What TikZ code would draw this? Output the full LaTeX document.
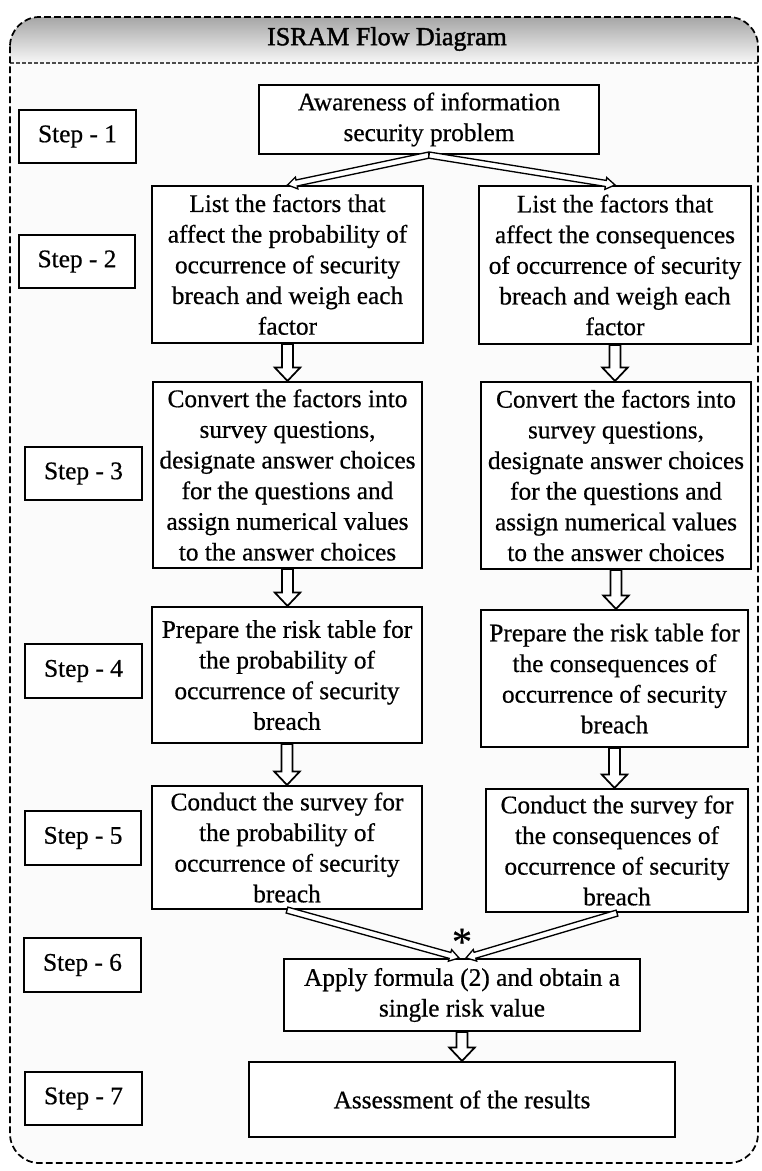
\documentclass[tikz,border=0pt]{standalone}
\usepackage{fontspec}
\setmainfont{Liberation Serif}[FakeBold=0.6]
\newfontfamily\titlefont{Liberation Serif}[FakeBold=1.6]
\usetikzlibrary{calc}
\newcommand\mybox[7]{\node[#1, minimum width={(#5-#3)*0.75pt}, minimum height={(#6-#4)*0.75pt}] (#2) at ({(#3+#5)/2},{(#4+#6)/2}) {#7};}
\begin{document}
\begin{tikzpicture}[x=0.75pt,y=-0.75pt,
  every node/.style={font=\fontsize{19}{23}\selectfont},
  box/.style={draw=black, line width=1.6pt, fill=white, inner sep=0pt, align=center},
  steplab/.style={draw=black, line width=2pt, fill=white, inner sep=0pt, align=center},
  hollow/.style n args={4}{draw=black, fill=white, line width=#1, line join=miter,
    to path={let \p1=(\tikztostart), \p2=(\tikztotarget),
      \n1={atan2(\y2-\y1,\x2-\x1)}, \n2={veclen(\x2-\x1,\y2-\y1)-#4} in
      ($(\p1)+(\n1+90:#2)$) -- ($(\p1)+(\n1:\n2)+(\n1+90:#2)$)
      -- ($(\p1)+(\n1:\n2)+(\n1+90:#3)$) -- (\p2)
      -- ($(\p1)+(\n1:\n2)+(\n1-90:#3)$) -- ($(\p1)+(\n1:\n2)+(\n1-90:#2)$)
      -- ($(\p1)+(\n1-90:#2)$) -- cycle}},
  bigarrow/.style={hollow={1.3pt}{4.2pt}{9.5pt}{10pt}},
  thinarrow/.style={hollow={1pt}{2.3pt}{4.5pt}{7pt}}
]
\useasboundingbox (0,0) rectangle (762,1171);
% frame and header
\fill[gray!3, rounded corners=22pt] (10,17) rectangle (758,1163);
\begin{scope}
  \clip[rounded corners=22pt] (10,17) rectangle (758,1163);
  \shade[top color=gray!70, bottom color=gray!6] (10,17) rectangle (758,63);
\end{scope}
\draw[gray!60!black, line width=1pt, dash pattern=on 3pt off 1.5pt] (10,63) -- (758,63);
\draw[black, line width=1.3pt, dash pattern=on 5pt off 2.5pt, rounded corners=22pt] (10,17) rectangle (758,1163);
\node[font=\titlefont\fontsize{19.5}{23}\selectfont] (title) at (387,39) {ISRAM Flow Diagram};

% step labels
\mybox{steplab}{st1}{19}{110}{136}{163}{Step - 1}
\mybox{steplab}{st2}{19}{235}{135}{288}{Step - 2}
\mybox{steplab}{st3}{25}{447}{142}{500}{Step - 3}
\mybox{steplab}{st4}{25}{644}{142}{698}{Step - 4}
\mybox{steplab}{st5}{25}{811}{141}{865}{Step - 5}
\mybox{steplab}{st6}{24}{938}{141}{992}{Step - 6}
\mybox{steplab}{st7}{25}{1072}{142}{1125}{Step - 7}

% main boxes
\mybox{box}{aw}{259}{85}{599}{154}{Awareness of information\\security problem}
\mybox{box}{l2}{152}{186}{423}{343}{List the factors that\\affect the probability of\\occurrence of security\\breach and weigh each\\factor}
\mybox{box}{r2}{479}{186}{751}{344}{List the factors that\\affect the consequences\\of occurrence of security\\breach and weigh each\\factor}
\mybox{box}{l3}{153}{382}{422}{568}{Convert the factors into\\survey questions,\\designate answer choices\\for the questions and\\assign numerical values\\to the answer choices}
\mybox{box}{r3}{481}{382}{751}{569}{Convert the factors into\\survey questions,\\designate answer choices\\for the questions and\\assign numerical values\\to the answer choices}
\mybox{box}{l4}{152}{607}{422}{743}{Prepare the risk table for\\the probability of\\occurrence of security\\breach}
\mybox{box}{r4}{481}{610}{748}{747}{Prepare the risk table for\\the consequences of\\occurrence of security\\breach}
\mybox{box}{l5}{152}{786}{422}{909}{Conduct the survey for\\the probability of\\occurrence of security\\breach}
\mybox{box}{r5}{486}{789}{748}{912}{Conduct the survey for\\the consequences of\\occurrence of security\\breach}
\mybox{box}{s6}{284}{959}{640}{1031}{Apply formula (2) and obtain a\\single risk value}
\mybox{box}{s7}{249}{1062}{675}{1137}{Assessment of the results}

% connectors
\draw[thinarrow] (aw.south) to (l2.north);
\draw[thinarrow] (aw.south) to (r2.north);
\foreach \a/\b in {l2/l3, l3/l4, l4/l5, r2/r3, r3/r4, r4/r5, s6/s7}
  \draw[bigarrow] (\a.south) to (\a.south |- \b.north);
\draw[thinarrow] (l5.south) to ($(s6.north)+(-3,0)$);
\draw[thinarrow] (r5.south) to ($(s6.north)+(4,0)$);
\node[font=\fontsize{30}{30}\selectfont, inner sep=0pt] (star) at ($(s6.north)+(0,-16)$) {*};
\end{tikzpicture}
\end{document}
